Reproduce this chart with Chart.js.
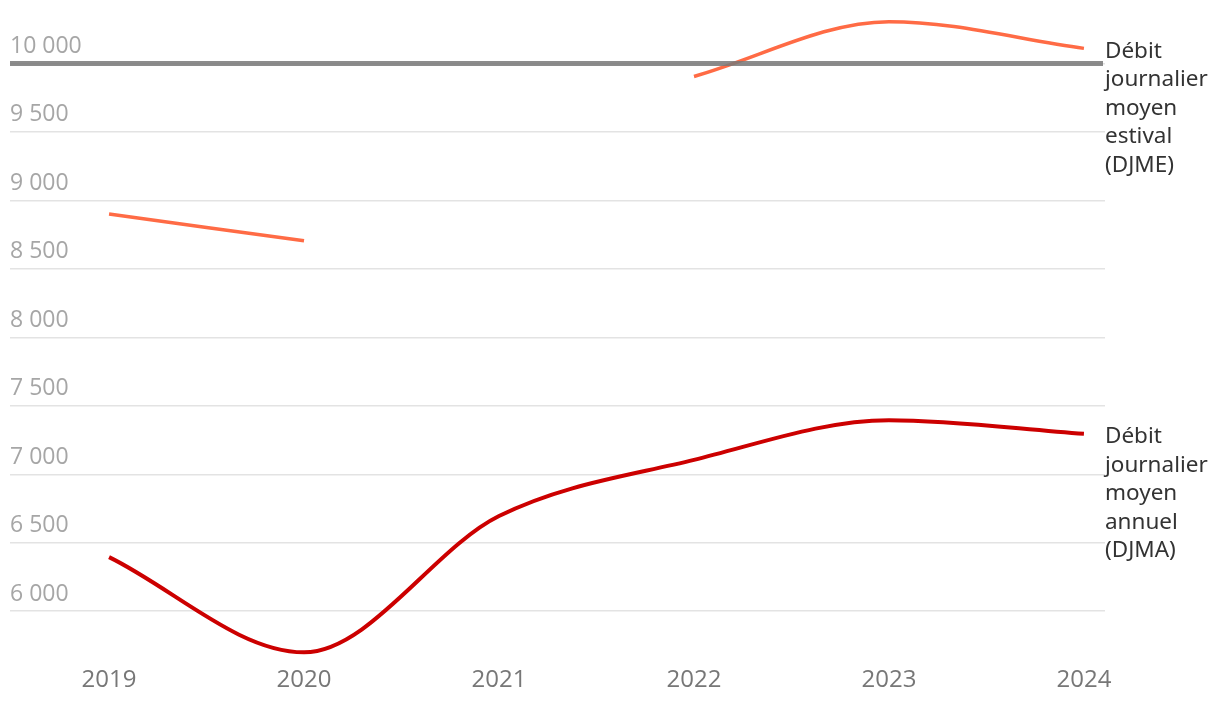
<!DOCTYPE html>
<html>
<head>
<meta charset="utf-8">
<script src="https://cdn.jsdelivr.net/npm/chart.js@4"></script>
<style>
  body { margin: 0; background: #fff; }
  #wrap { width: 1220px; height: 702px; }
</style>
</head>
<body>
<div id="wrap"><canvas id="chart"></canvas></div>
<script>
const years = [2019, 2020, 2021, 2022, 2023, 2024];
const djme = [8900, 8705, null, 9905, 10305, 10110];
const djma = [6395, 5700, 6695, 7105, 7395, 7295];
const yTicks = [6000, 6500, 7000, 7500, 8000, 8500, 9000, 9500, 10000];
const djmeLabel = ['Débit', 'journalier', 'moyen', 'estival', '(DJME)'];
const djmaLabel = ['Débit', 'journalier', 'moyen', 'annuel', '(DJMA)'];

function fmt(v) {
  return String(v).replace(/\B(?=(\d{3})+(?!\d))/g, ' ');
}

// thick grey line at 10 000, drawn over the lines
const refLine = {
  id: 'refLine',
  afterDatasetsDraw(chart) {
    const ctx = chart.ctx;
    const y = chart.scales.y.getPixelForValue(10000);
    ctx.save();
    ctx.strokeStyle = 'rgba(120,120,120,0.85)';
    ctx.lineWidth = 5;
    ctx.beginPath();
    ctx.moveTo(chart.chartArea.left, y);
    ctx.lineTo(chart.chartArea.right - 2, y);
    ctx.stroke();
    ctx.restore();
  }
};

// series names at the right end
const endLabels = {
  id: 'endLabels',
  afterDraw(chart) {
    const ctx = chart.ctx;
    const labels = [djmeLabel, djmaLabel];
    ctx.save();
    ctx.font = '22.5px "Noto Sans"';
    ctx.fillStyle = '#333';
    ctx.textBaseline = 'middle';
    labels.forEach(function(lines, i) {
      const meta = chart.getDatasetMeta(i);
      const pt = meta.data[meta.data.length - 1];
      lines.forEach(function(t, j) {
        ctx.fillText(t, chart.chartArea.right, pt.y + 3 + j * 28.5);
      });
    });
    ctx.restore();
  }
};

new Chart(document.getElementById('chart'), {
  type: 'line',
  data: {
    datasets: [
      {
        label: 'DJME',
        data: years.map((y, i) => ({ x: y, y: djme[i] })),
        borderColor: '#ff6b45',
        borderWidth: 3.5,
        pointRadius: 0,
        cubicInterpolationMode: 'monotone',
        spanGaps: false
      },
      {
        label: 'DJMA',
        data: years.map((y, i) => ({ x: y, y: djma[i] })),
        borderColor: '#cc0000',
        borderWidth: 4,
        pointRadius: 0,
        cubicInterpolationMode: 'monotone'
      }
    ]
  },
  options: {
    responsive: true,
    maintainAspectRatio: false,
    animation: false,
    layout: { padding: { left: 10, right: 115, top: 15.5, bottom: 10 } },
    plugins: { legend: { display: false }, tooltip: { enabled: false } },
    scales: {
      x: {
        type: 'linear',
        min: 2018.492,
        max: 2024.108,
        afterBuildTicks: function(axis) {
          axis.ticks = years.map(v => ({ value: v }));
        },
        grid: { display: false },
        border: { display: false },
        ticks: {
          color: '#777',
          font: { family: 'Open Sans', size: 24 },
          padding: -3,
          maxRotation: 0,
          callback: v => String(v)
        }
      },
      y: {
        min: 5635,
        max: 10350,
        afterBuildTicks: function(axis) {
          axis.ticks = yTicks.map(v => ({ value: v }));
        },
        grid: { color: '#e3e3e3', lineWidth: 1.5, drawTicks: false },
        border: { display: false },
        ticks: {
          mirror: true,
          padding: 0,
          labelOffset: -17,
          color: '#a6a6a6',
          font: { family: 'Open Sans', size: 23 },
          callback: v => fmt(v)
        }
      }
    }
  },
  plugins: [refLine, endLabels]
});
</script>
</body>
</html>
